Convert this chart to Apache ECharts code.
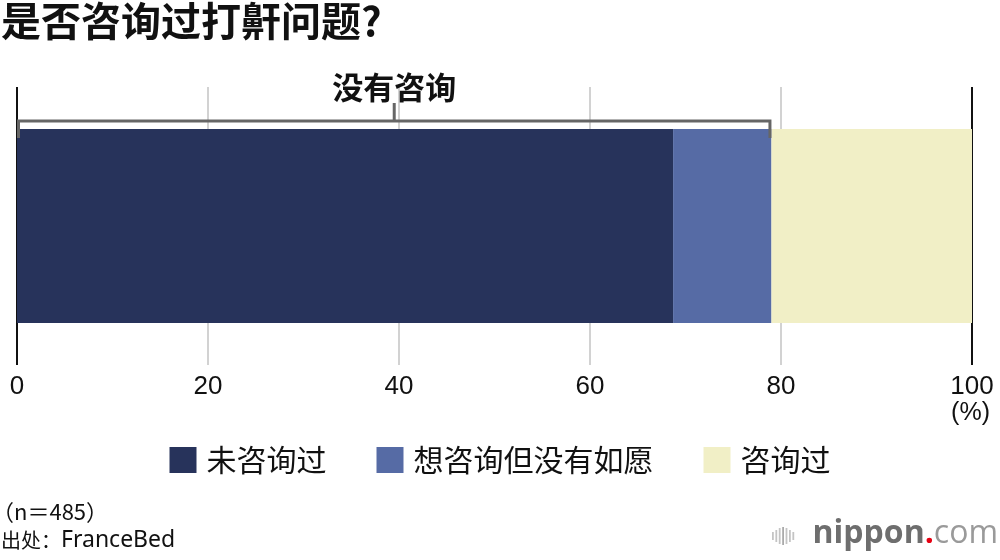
<!DOCTYPE html>
<html>
<head>
<meta charset="utf-8">
<script src="https://cdn.jsdelivr.net/npm/echarts@6/dist/echarts.min.js"></script>
<style>
html,body{margin:0;padding:0;background:#fff;}
#chart{width:1000px;height:560px;}
</style>
</head>
<body>
<div id="chart"></div>
<script>
// ---- data ----
const categories = ['是否咨询过打鼾问题'];
const seriesNames = ['未咨询过', '想咨询但没有如愿', '咨询过'];
const notConsulted = [68.7];
const wantedButNot = [10.3];
const consulted = [21.0];
const xTickMin = 0, xTickMax = 100, xTickStep = 20;
const titleText = '是否咨询过打鼾问题?';
const bracketLabel = '没有咨询';
const sampleNote = '（n＝485）';
const sourcePrefix = '出处：';
const sourceName = 'FranceBed';
const unitLabel = '(%)';

const colors = ['#27335b', '#566ba5', '#f1efc6'];
const CJK = '"Noto Sans CJK SC", "Noto Sans", sans-serif';
const LAT = '"Liberation Sans", Arial, sans-serif';
const BAR_W = 194;

const chart = echarts.init(document.getElementById('chart'), null, {renderer: 'canvas'});

const valueLists = [notConsulted, wantedButNot, consulted];
const series = seriesNames.map((name, i) => ({
  name: name,
  type: 'bar',
  stack: 'total',
  barWidth: BAR_W,
  data: valueLists[i],
  itemStyle: {color: colors[i]},
  emphasis: {disabled: true},
  z: 3
}));

chart.setOption({
  animation: false,
  grid: {left: 17, right: 28, top: 87, bottom: 195, containLabel: false},
  xAxis: {
    type: 'value',
    min: xTickMin, max: xTickMax, interval: xTickStep,
    axisLine: {show: false},
    axisTick: {show: false},
    axisLabel: {
      margin: 9,
      color: '#111',
      fontSize: 26,
      fontFamily: 'Liberation Sans'
    },
    splitLine: {
      show: true,
      showMinLine: true,
      showMaxLine: true,
      lineStyle: {color: ['#111', '#d2d2d2', '#d2d2d2', '#d2d2d2', '#d2d2d2', '#111'], width: 2}
    }
  },
  yAxis: {
    type: 'category',
    data: categories,
    axisLine: {show: false},
    axisTick: {show: false},
    axisLabel: {show: false},
    splitLine: {show: false}
  },
  legend: {
    data: seriesNames,
    left: 'center',
    top: 440,
    icon: 'rect',
    itemWidth: 27,
    itemHeight: 26,
    itemGap: 50,
    selectedMode: false,
    textStyle: {color: '#111', fontSize: 30, fontFamily: CJK, padding: [0, 0, 0, 5]}
  },
  series: series
});

// bracket above "not consulted" part, positioned through the axis scales
const x0 = chart.convertToPixel({xAxisIndex: 0}, 0);
const x1 = chart.convertToPixel({xAxisIndex: 0}, notConsulted[0] + wantedButNot[0]);
const yc = chart.convertToPixel({yAxisIndex: 0}, 0);
const barTop = yc - BAR_W / 2;
const by = barTop - 8;
const xm = (x0 + x1) / 2;
const bracketStyle = {stroke: '#666', lineWidth: 3, lineJoin: 'miter', lineCap: 'butt'};

const iconHeights = [8, 12, 16, 18, 16, 12, 8];
const iconEls = iconHeights.map((h, i) => ({
  type: 'rect',
  shape: {x: 772 + i * 3.4, y: 536 - h / 2, width: 1.8, height: h},
  style: {fill: i === 3 ? '#aaa' : '#c4c4c4'}
}));

chart.setOption({
  graphic: [
    {
      type: 'text', left: 1, top: 1,
      style: {text: titleText, font: 'bold 40px ' + CJK, fill: '#111'}
    },
    {
      type: 'polyline', z: 10,
      shape: {points: [[x0 + 1.5, barTop + 9], [x0 + 1.5, by], [x1 - 1.5, by], [x1 - 1.5, barTop + 9]]},
      style: Object.assign({fill: null}, bracketStyle)
    },
    {
      type: 'line', z: 10,
      shape: {x1: xm, y1: by, x2: xm, y2: by - 18},
      style: bracketStyle
    },
    {
      type: 'text', z: 10, x: xm, y: by - 34,
      style: {text: bracketLabel, font: 'bold 31px ' + CJK, fill: '#111', align: 'center', verticalAlign: 'middle'}
    },
    {
      type: 'text', x: 990, y: 413,
      style: {text: unitLabel, font: '25px ' + LAT, fill: '#111', align: 'right', verticalAlign: 'middle'}
    },
    {
      type: 'text', x: -8, y: 512,
      style: {text: sampleNote, font: '22px ' + CJK, fill: '#111', align: 'left', verticalAlign: 'middle'}
    },
    {
      type: 'text', x: 1, y: 540,
      style: {
        text: '{c|' + sourcePrefix + '}{l|' + sourceName + '}',
        align: 'left', verticalAlign: 'middle',
        rich: {
          c: {font: '20px ' + CJK, fill: '#111'},
          l: {font: '23px "Noto Sans", sans-serif', fill: '#111'}
        }
      }
    },
    {
      type: 'text', x: 998, y: 534,
      style: {
        text: '{a|nippon}{b|.}{c|com}',
        align: 'right', verticalAlign: 'middle',
        rich: {
          a: {font: 'bold 32px "Open Sans", sans-serif', fill: '#6e6e6e'},
          b: {font: 'bold 32px "Open Sans", sans-serif', fill: '#e60012'},
          c: {font: '32px "Open Sans", sans-serif', fill: '#9a9a9a'}
        }
      }
    },
    {type: 'group', children: iconEls}
  ]
});
</script>
</body>
</html>
